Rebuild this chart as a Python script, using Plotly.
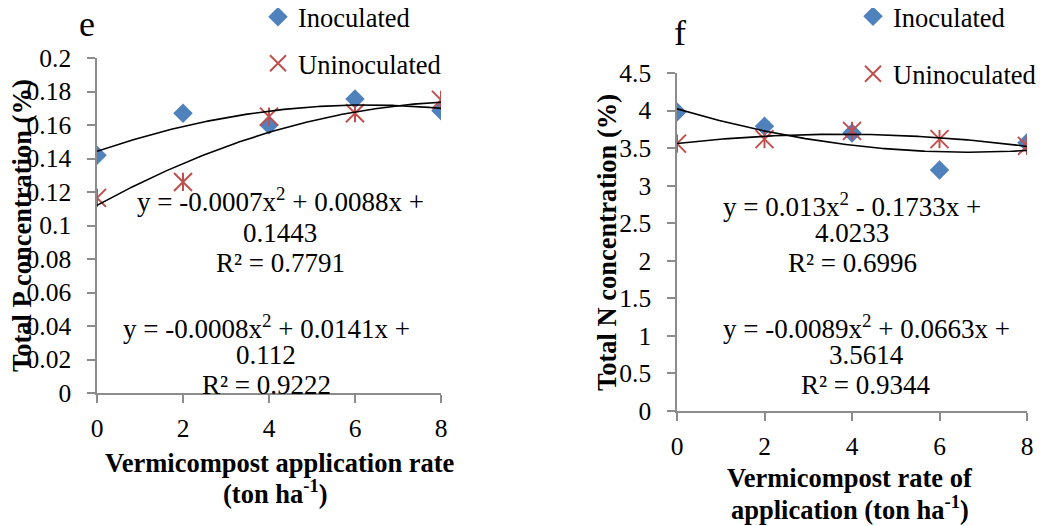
import numpy as np
import plotly.graph_objects as go

# ---------------- data ----------------
rate = [0, 2, 4, 6, 8]
p_inoc = [0.142, 0.167, 0.160, 0.1755, 0.1685]
p_uninoc = [0.1165, 0.126, 0.165, 0.167, 0.175]
n_inoc = [3.98, 3.79, 3.70, 3.21, 3.57]
n_uninoc = [3.56, 3.62, 3.73, 3.62, 3.53]

# trendline coefficients (a, b, c) as printed on the chart
p_inoc_fit = [-0.0007, 0.0088, 0.1443]
p_uninoc_fit = [-0.0008, 0.0141, 0.112]
n_inoc_fit = [0.013, -0.1733, 4.0233]
n_uninoc_fit = [-0.0089, 0.0663, 3.5614]

p_ticks = [0, 0.02, 0.04, 0.06, 0.08, 0.1, 0.12, 0.14, 0.16, 0.18, 0.2]
p_ticktext = ["0", "0.02", "0.04", "0.06", "0.08", "0.1", "0.12", "0.14", "0.16", "0.18", "0.2"]
n_ticks = [0, 0.5, 1, 1.5, 2, 2.5, 3, 3.5, 4, 4.5]
n_ticktext = ["0", "0.5", "1", "1.5", "2", "2.5", "3", "3.5", "4", "4.5"]
x_ticks = [0, 2, 4, 6, 8]

BLUE = "#4F81BD"
RED = "#C0504D"
AXIS = "#8C8C8C"
FONT = "Times New Roman, Liberation Serif, DejaVu Serif, serif"
FS_TICK = 25.5
FS_EQ = 27
FS_LEG = 26.5
FS_TITLE = 26.5

# page body has an 8px margin: the figure starts at (8, 8) in the window
OFF = 8
W, H = 1046 - OFF, 526 - OFF


def px(v):
    return (v - OFF) / W


def py(v):
    return 1 - (v - OFF) / H


fig = go.Figure()

xs = np.linspace(0, 8, 200)


def add_panel(xa, ya, inoc, uninoc, fit_i, fit_u, legend):
    fig.add_trace(go.Scatter(
        x=rate, y=inoc, mode="markers", name="Inoculated",
        marker=dict(symbol="diamond", size=15, color=BLUE),
        xaxis=xa, yaxis=ya, legend=legend, legendgroup=legend + "i"))
    fig.add_trace(go.Scatter(
        x=rate, y=uninoc, mode="markers", name="Uninoculated",
        marker=dict(symbol="x-thin-open", size=18, color=RED,
                    line=dict(color=RED, width=2)),
        xaxis=xa, yaxis=ya, legend=legend, legendgroup=legend + "u"))
    fig.add_trace(go.Scatter(
        x=rate, y=uninoc, mode="markers", showlegend=False,
        marker=dict(symbol="line-ns-open", size=13, color=RED,
                    line=dict(color=RED, width=2)),
        xaxis=xa, yaxis=ya, legendgroup=legend + "u", hoverinfo="skip"))
    for c in (fit_i, fit_u):
        fig.add_trace(go.Scatter(
            x=xs, y=np.polyval(c, xs), mode="lines", showlegend=False,
            line=dict(color="black", width=1.6), hoverinfo="skip",
            xaxis=xa, yaxis=ya))


add_panel("x", "y", p_inoc, p_uninoc, p_inoc_fit, p_uninoc_fit, "legend")
add_panel("x2", "y2", n_inoc, n_uninoc, n_inoc_fit, n_uninoc_fit, "legend2")

axis_common = dict(showline=True, linecolor=AXIS, linewidth=1.5, ticks="outside",
                   ticklen=8, tickwidth=1.5, tickcolor=AXIS, showgrid=False,
                   zeroline=False, automargin=False,
                   tickfont=dict(family=FONT, size=FS_TICK, color="black"))

fig.update_layout(
    width=W, height=H,
    margin=dict(l=0, r=0, t=0, b=0, autoexpand=False),
    paper_bgcolor="white", plot_bgcolor="white",
    font=dict(family=FONT, size=FS_TICK, color="black"),
    xaxis=dict(domain=[px(97), px(441)], range=[0, 8], tickvals=x_ticks,
               anchor="y", ticklabelstandoff=4, **axis_common),
    yaxis=dict(domain=[py(393), py(58)], range=[0, 0.2], tickvals=p_ticks,
               ticktext=p_ticktext, anchor="x", ticklabelstandoff=11, **axis_common),
    xaxis2=dict(domain=[px(677), px(1027)], range=[0, 8], tickvals=x_ticks,
                anchor="y2", ticklabelstandoff=4, **axis_common),
    yaxis2=dict(domain=[py(411), py(73)], range=[0, 4.5], tickvals=n_ticks,
                ticktext=n_ticktext, anchor="x2", ticklabelstandoff=11, **axis_common),
    legend=dict(x=px(258), y=py(40), xanchor="left", yanchor="middle",
                bgcolor="rgba(0,0,0,0)", tracegroupgap=9, traceorder="grouped",
                font=dict(family=FONT, size=FS_LEG)),
    legend2=dict(x=px(853), y=py(45), xanchor="left", yanchor="middle",
                 bgcolor="rgba(0,0,0,0)", tracegroupgap=20, traceorder="grouped",
                 font=dict(family=FONT, size=FS_LEG)),
    showlegend=True,
)

ann = []


def text(x, y, s, size=FS_EQ, bold=False, angle=0):
    if bold:
        s = "<b>" + s + "</b>"
    ann.append(dict(x=px(x), y=py(y), xref="paper", yref="paper", text=s,
                    showarrow=False, xanchor="center", yanchor="middle",
                    textangle=angle, font=dict(family=FONT, size=size, color="black")))


# panel letters
text(87, 24, "e", size=36)
text(680, 33, "f", size=36)

# equations – left
text(280, 200, "y = -0.0007x<sup>2</sup> + 0.0088x +")
text(280, 233, "0.1443")
text(280, 263, "R² = 0.7791")
text(266, 327, "y = -0.0008x<sup>2</sup> + 0.0141x +")
text(266, 355, "0.112")
text(266, 385, "R² = 0.9222")
# equations – right
text(852, 205, "y = 0.013x<sup>2</sup> - 0.1733x +")
text(852, 233, "4.0233")
text(852, 263, "R² = 0.6996")
text(866, 327, "y = -0.0089x<sup>2</sup> + 0.0663x +")
text(866, 355, "3.5614")
text(866, 385, "R² = 0.9344")

# axis titles
text(22, 226, "Total P concentration (%)", size=FS_TITLE, bold=True, angle=-90)
text(607, 243, "Total N concentration (%)", size=FS_TITLE, bold=True, angle=-90)
text(280, 463, "Vermicompost application rate", size=FS_TITLE, bold=True)
text(275, 492, "(ton ha<sup>-1</sup>)", size=FS_TITLE, bold=True)
text(850, 478, "Vermicompost rate of", size=FS_TITLE, bold=True)
text(850, 508, "application (ton ha<sup>-1</sup>)", size=FS_TITLE, bold=True)

fig.update_layout(annotations=ann)

fig.write_html("out.html")
